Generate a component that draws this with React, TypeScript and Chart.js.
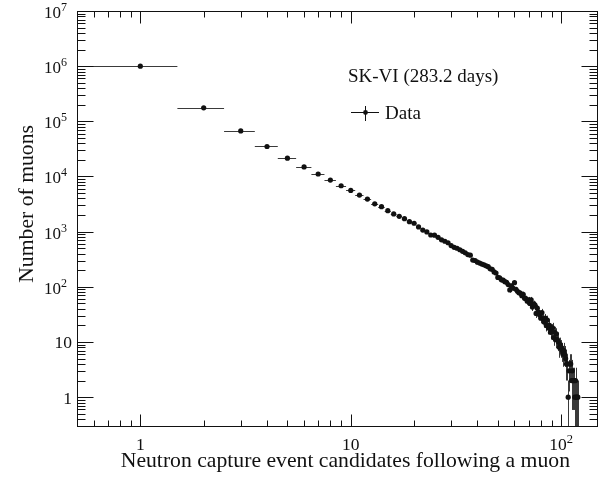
import React, { useEffect, useRef } from 'react';
import { Chart, registerables } from 'chart.js';

Chart.register(...registerables);

// ---- data ----
const binCenters: number[] = [
  1, 2, 3, 4, 5, 6, 7, 8, 9, 10,
  11, 12, 13, 14, 15, 16, 17, 18, 19, 20,
  21, 22, 23, 24, 25, 26, 27, 28, 29, 30,
  31, 32, 33, 34, 35, 36, 37, 38, 39, 40,
  41, 42, 43, 44, 45, 46, 47, 48, 49, 50,
  51, 52, 53, 54, 55, 56, 57, 58, 59, 60,
  61, 62, 63, 64, 65, 66, 67, 68, 69, 70,
  71, 72, 73, 74, 75, 76, 77, 78, 79, 80,
  81, 82, 83, 84, 85, 86, 87, 88, 89, 90,
  91, 92, 93, 94, 95, 96, 97, 98, 99, 100,
  101, 102, 103, 104, 105, 106, 107, 108, 109, 110,
  111, 112, 113, 114, 115, 116, 117, 118, 119, 120,
];

const muonCounts: number[] = [
  1000000, 176000, 67000, 35000, 21500, 14900, 11100, 8600, 6800, 5600,
  4600, 3900, 3200, 2840, 2400, 2100, 1900, 1720, 1520, 1420,
  1220, 1070, 990, 870, 865, 790, 710, 670, 630, 560,
  520, 500, 470, 440, 415, 385, 375, 305, 300, 280,
  270, 258, 250, 240, 232, 212, 208, 186, 178, 148,
  146, 134, 132, 124, 121, 110, 88, 104, 95, 119,
  90, 83, 78, 77, 69, 73, 62, 61, 55, 58,
  50, 58, 43, 49, 47, 33, 41, 35, 31, 27,
  34, 26, 23, 27, 20, 25, 18, 20, 15, 17,
  18, 12, 15, 11, 14, 11, 10, 8, 9, 8,
  7, 6, 7, 6, 5, 4, 4, 1, 3, 4,
  4, 2, 3, 2, 2, 1, 2, 1, 1, 1,
];

const binHalfWidth = 0.5;

const xTickValues: number[] = [1, 10, 100];
const xTickLabels: string[] = ['1', '10', '10^2'];
const yTickValues: number[] = [1, 10, 100, 1000, 10000, 100000, 1000000, 10000000];
const yTickLabels: string[] = ['1', '10', '10^2', '10^3', '10^4', '10^5', '10^6', '10^7'];

const xTitle = 'Neutron capture event candidates following a muon';
const yTitle = 'Number of muons';
const legendHeader = 'SK-VI (283.2 days)';
const seriesName = 'Data';

const X_MIN = 0.5;
const X_MAX = 148;
const Y_MIN = 0.3;
const Y_MAX = 1e7;

const FONT = '"Liberation Serif", "Times New Roman", serif';
const INK = '#111';

function drawLabel(
  ctx: CanvasRenderingContext2D,
  label: string,
  x: number,
  baseline: number,
  align: 'right' | 'center' | 'left',
  baseSize: number,
  expSize: number,
  raise: number,
) {
  const parts = label.split('^');
  const base = parts[0];
  const exp = parts[1] || '';
  ctx.font = `${baseSize}px ${FONT}`;
  const wb = ctx.measureText(base).width;
  ctx.font = `${expSize}px ${FONT}`;
  const we = exp ? ctx.measureText(exp).width : 0;
  const total = wb + we;
  let start = x;
  if (align === 'right') start = x - total;
  else if (align === 'center') start = x - total / 2;
  ctx.textAlign = 'left';
  ctx.textBaseline = 'alphabetic';
  ctx.font = `${baseSize}px ${FONT}`;
  ctx.fillText(base, start, baseline);
  if (exp) {
    ctx.font = `${expSize}px ${FONT}`;
    ctx.fillText(exp, start + wb, baseline - raise);
  }
}

const errorBarPlugin = {
  id: 'errorBars',
  beforeDatasetsDraw(chart: any) {
    const { ctx, chartArea: a, scales } = chart;
    const xs = scales.x;
    const ys = scales.y;
    ctx.save();
    ctx.beginPath();
    ctx.rect(a.left, a.top, a.right - a.left, a.bottom - a.top);
    ctx.clip();
    ctx.strokeStyle = '#3a3a3a';
    ctx.lineWidth = 1;
    for (let i = 0; i < binCenters.length; i++) {
      const c = binCenters[i];
      const n = muonCounts[i];
      if (!(n > 0)) continue;
      const e = Math.sqrt(n);
      const px = Math.round(xs.getPixelForValue(c)) + 0.5;
      const py = Math.round(ys.getPixelForValue(n)) + 0.5;
      const xl = xs.getPixelForValue(c - binHalfWidth);
      const xr = xs.getPixelForValue(c + binHalfWidth);
      const lowV = n - e > 0 ? n - e : 0.01;
      const yLo = ys.getPixelForValue(lowV);
      const yHi = ys.getPixelForValue(n + e);
      ctx.beginPath();
      ctx.moveTo(xl, py);
      ctx.lineTo(xr, py);
      ctx.moveTo(px, yLo);
      ctx.lineTo(px, yHi);
      ctx.stroke();
    }
    ctx.restore();
  },
};

const framePlugin = {
  id: 'rootFrame',
  afterDraw(chart: any) {
    const { ctx, chartArea: a, scales } = chart;
    const xs = scales.x;
    const ys = scales.y;
    const L = Math.round(a.left) + 0.5;
    const R = Math.round(a.right) + 0.5;
    const T = Math.round(a.top) + 0.5;
    const B = Math.round(a.bottom) + 0.5;
    ctx.save();
    ctx.strokeStyle = INK;
    ctx.fillStyle = INK;
    ctx.lineWidth = 1;
    ctx.strokeRect(L, T, R - L, B - T);

    // x ticks (bottom and top)
    ctx.beginPath();
    for (let d = -1; d <= 2; d++) {
      for (let k = 1; k <= 9; k++) {
        const v = k * Math.pow(10, d);
        if (v <= X_MIN * 1.001 || v >= X_MAX) continue;
        const px = Math.round(xs.getPixelForValue(v)) + 0.5;
        const len = k === 1 ? 12 : 6;
        ctx.moveTo(px, B);
        ctx.lineTo(px, B - len);
        ctx.moveTo(px, T);
        ctx.lineTo(px, T + len);
      }
    }
    // y ticks (left and right)
    for (let d = -1; d <= 7; d++) {
      for (let k = 1; k <= 9; k++) {
        const v = k * Math.pow(10, d);
        if (v < Y_MIN * 0.999 || v >= Y_MAX * 0.999) continue;
        const py = Math.round(ys.getPixelForValue(v)) + 0.5;
        const len = k === 1 ? 16 : 8;
        ctx.moveTo(L, py);
        ctx.lineTo(L + len, py);
        ctx.moveTo(R, py);
        ctx.lineTo(R - len, py);
      }
    }
    ctx.stroke();

    // x tick labels
    xTickValues.forEach((v, i) => {
      const px = xs.getPixelForValue(v);
      drawLabel(ctx, xTickLabels[i], px, 450, 'center', 17.5, 12.5, 7);
    });
    // y tick labels
    yTickValues.forEach((v, i) => {
      const py = ys.getPixelForValue(v);
      const lab = yTickLabels[i];
      if (lab.includes('^')) {
        drawLabel(ctx, lab, 67, py + 7, 'right', 17, 12, 7);
      } else {
        drawLabel(ctx, lab, 72, py + 6.5, 'right', 17.5, 12, 7);
      }
    });

    // axis titles
    ctx.font = `21.7px ${FONT}`;
    ctx.textAlign = 'right';
    ctx.textBaseline = 'alphabetic';
    ctx.fillText(xTitle, 570, 467);
    ctx.save();
    ctx.translate(33, 125);
    ctx.rotate(-Math.PI / 2);
    ctx.textAlign = 'right';
    ctx.fillText(yTitle, 0, 0);
    ctx.restore();

    // legend
    ctx.font = `19px ${FONT}`;
    ctx.textAlign = 'left';
    ctx.fillText(legendHeader, 348, 82);
    ctx.fillText(seriesName, 385, 119);
    ctx.beginPath();
    ctx.moveTo(351, 112.5);
    ctx.lineTo(379, 112.5);
    ctx.moveTo(365.5, 106);
    ctx.lineTo(365.5, 121);
    ctx.stroke();
    ctx.beginPath();
    ctx.arc(365.5, 112.5, 2.4, 0, Math.PI * 2);
    ctx.fill();

    ctx.restore();
  },
};

export default function App() {
  const canvasRef = useRef<HTMLCanvasElement | null>(null);

  useEffect(() => {
    const canvas = canvasRef.current;
    if (!canvas) return;
    const points = binCenters
      .map((x, i) => ({ x, y: muonCounts[i] }))
      .filter((p) => p.y > 0);
    const chart = new Chart(canvas, {
      type: 'scatter',
      data: {
        datasets: [
          {
            label: seriesName,
            data: points,
            pointRadius: 2.6,
            pointBackgroundColor: INK,
            pointBorderWidth: 0,
            pointBorderColor: INK,
            showLine: false,
          },
        ],
      },
      options: {
        responsive: false,
        animation: false,
        devicePixelRatio: 1,
        layout: { padding: { left: 77, right: 13, top: 11, bottom: 61 } },
        plugins: {
          legend: { display: false },
          tooltip: { enabled: false },
        },
        scales: {
          x: { type: 'logarithmic', min: X_MIN, max: X_MAX, display: false },
          y: { type: 'logarithmic', min: Y_MIN, max: Y_MAX, display: false },
        },
      },
      plugins: [errorBarPlugin, framePlugin],
    });
    return () => chart.destroy();
  }, []);

  return (
    <div style={{ position: 'absolute', left: 0, top: 0, width: 610, height: 487, background: '#fff' }}>
      <canvas ref={canvasRef} width={610} height={487} style={{ display: 'block' }} />
    </div>
  );
}
